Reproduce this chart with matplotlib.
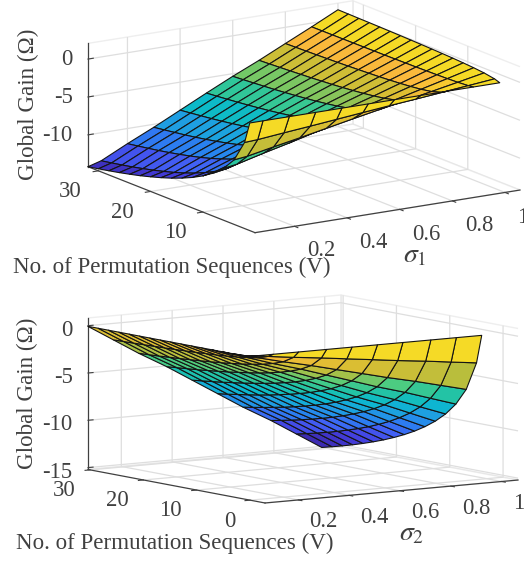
import numpy as np
import matplotlib
matplotlib.use('Agg')
import matplotlib.pyplot as plt
from matplotlib.colors import LinearSegmentedColormap, Normalize

plt.rcParams.update({
    'font.family': ['Liberation Serif', 'DejaVu Serif'],
    'mathtext.fontset': 'stix',
    'grid.color': '#dedede',
    'grid.linewidth': 0.9,
    'axes.edgecolor': '#404040',
    'axes.linewidth': 0.9,
    'xtick.color': '#404040',
    'ytick.color': '#404040',
    'text.color': '#404040',
    'axes.labelcolor': '#404040',
})

W, H = 524, 561

# ---- data: panel 1 -------------------------------------------------------
sigma1 = [0.05, 0.1, 0.2, 0.3, 0.4, 0.5, 0.6, 0.7, 0.8, 0.9, 1.0]
v1 = [1, 2, 4, 6, 8, 10, 12, 14, 16, 18, 20, 22, 24, 26, 28, 30, 32]
gain1 = [
    [0, 0, 0, 0, 0, 0, 0, 0, 0, 0, 0],
    [-2.84, -2.74, -2.40, -2.08, -1.74, -1.40, -1.07, -0.76, -0.43, -0.10, 0.24],
    [-5.68, -5.48, -4.80, -4.16, -3.48, -2.80, -2.14, -1.52, -0.86, -0.20, 0.48],
    [-7.34, -7.08, -6.20, -5.38, -4.50, -3.62, -2.77, -1.96, -1.11, -0.26, 0.62],
    [-8.52, -8.22, -7.20, -6.24, -5.22, -4.20, -3.21, -2.28, -1.28, -0.30, 0.72],
    [-9.43, -9.10, -7.97, -6.91, -5.78, -4.65, -3.55, -2.52, -1.42, -0.33, 0.80],
    [-10.18, -9.82, -8.60, -7.46, -6.24, -5.02, -3.84, -2.72, -1.53, -0.36, 0.86],
    [-10.81, -10.43, -9.13, -7.91, -6.62, -5.33, -4.07, -2.89, -1.63, -0.38, 0.91],
    [-11.36, -10.96, -9.60, -8.32, -6.96, -5.60, -4.28, -3.04, -1.71, -0.40, 0.96],
    [-11.84, -11.43, -10.01, -8.67, -7.26, -5.84, -4.46, -3.17, -1.78, -0.42, 1.00],
    [-12.27, -11.84, -10.37, -8.99, -7.52, -6.05, -4.62, -3.28, -1.85, -0.43, 1.04],
    [-12.67, -12.22, -10.70, -9.28, -7.76, -6.24, -4.77, -3.39, -1.91, -0.45, 1.07],
    [-13.02, -12.56, -11.00, -9.54, -7.98, -6.42, -4.91, -3.48, -1.96, -0.46, 1.10],
    [-13.35, -12.88, -11.28, -9.78, -8.18, -6.58, -5.03, -3.57, -2.01, -0.47, 1.13],
    [-13.65, -13.17, -11.53, -9.99, -8.36, -6.73, -5.14, -3.65, -2.06, -0.48, 1.15],
    [-13.93, -13.44, -11.77, -10.20, -8.53, -6.87, -5.25, -3.73, -2.10, -0.49, 1.18],
    [-14.20, -13.70, -12.00, -10.40, -8.70, -7.00, -5.35, -3.80, -2.14, -0.50, 1.20],
]
# how much each V row of panel 1 follows its own gain in colour (rest: the V=32 row)
colour_follow1 = [1, 1, 1, 0.7, 0.5, 0.35, 0.3, 0.3, 0.3, 0.3, 0.3, 0.3, 0.3, 0.3, 0.3, 0.3, 0.3]

# ---- data: panel 2 -------------------------------------------------------
sigma2 = [0.06, 0.16, 0.26, 0.37, 0.47, 0.57, 0.67, 0.78, 0.88, 0.98]
v2 = [0, 0.97, 2.9, 4.84, 6.77, 8.71, 10.65, 12.58, 14.52, 16.45, 18.39,
      20.32, 22.26, 24.19, 26.13, 28.06, 30]
gain2 = [
    [0, 0, 0, 0, 0, 0, 0, 0, 0, 0],
    [0, -0.33, -0.67, -1.00, -1.34, -1.67, -2.01, -2.34, -2.68, -3.01],
    [0, -0.67, -1.34, -2.01, -2.68, -3.34, -4.01, -4.68, -5.35, -6.02],
    [0, -0.86, -1.73, -2.59, -3.46, -4.32, -5.19, -6.05, -6.92, -7.78],
    [0, -1.00, -2.01, -3.01, -4.01, -5.02, -6.02, -7.02, -8.03, -9.03],
    [0, -1.11, -2.22, -3.33, -4.44, -5.56, -6.67, -7.78, -8.89, -10.00],
    [0, -1.20, -2.40, -3.60, -4.80, -5.99, -7.19, -8.39, -9.59, -10.79],
    [0, -1.27, -2.55, -3.82, -5.09, -6.37, -7.64, -8.91, -10.19, -11.46],
    [0, -1.34, -2.68, -4.01, -5.35, -6.69, -8.03, -9.36, -10.70, -12.04],
    [0, -1.39, -2.79, -4.18, -5.58, -6.97, -8.37, -9.76, -11.16, -12.55],
    [0, -1.45, -2.89, -4.34, -5.78, -7.23, -8.67, -10.12, -11.56, -13.01],
    [0, -1.49, -2.98, -4.47, -5.96, -7.46, -8.95, -10.44, -11.93, -13.42],
    [0, -1.53, -3.07, -4.60, -6.13, -7.67, -9.20, -10.73, -12.27, -13.80],
    [0, -1.57, -3.14, -4.72, -6.29, -7.86, -9.43, -11.01, -12.58, -14.15],
    [0, -1.61, -3.22, -4.82, -6.43, -8.04, -9.65, -11.25, -12.86, -14.47],
    [0, -1.64, -3.28, -4.92, -6.56, -8.21, -9.85, -11.49, -13.13, -14.77],
    [0, -1.67, -3.34, -5.02, -6.69, -8.36, -10.03, -11.71, -13.38, -15.05],
]
colour_follow2 = [1] * 17

sigma_ticks = [0.2, 0.4, 0.6, 0.8, 1.0]
sigma_ticklabels = ['0.2', '0.4', '0.6', '0.8', '1']
v1_ticks = [10, 20, 30]
v2_ticks = [0, 10, 20, 30]
z1_ticks = [-10, -5, 0]
z2_ticks = [-15, -10, -5, 0]

cmap_anchors = [
    (0.00, (58, 40, 170)), (0.10, (68, 62, 222)), (0.20, (66, 96, 245)),
    (0.30, (40, 130, 240)), (0.40, (30, 160, 225)), (0.50, (10, 185, 205)),
    (0.60, (35, 195, 165)), (0.70, (80, 205, 125)), (0.80, (185, 190, 60)),
    (0.90, (222, 190, 50)), (0.975, (252, 185, 60)), (1.00, (245, 218, 38)),
]
parula = LinearSegmentedColormap.from_list(
    'parula_like', [(p, tuple(c / 255 for c in rgb)) for p, rgb in cmap_anchors])

fig = plt.figure(figsize=(W / 100, H / 100), dpi=100)
fig.patch.set_facecolor('white')


def project(ax, pts):
    M = ax.get_proj()
    out = []
    for x, y, z in pts:
        v = M @ np.array([x, y, z, 1.0])
        out.append((v[0] / v[3], v[1] / v[3]))
    return ax.transData.transform(np.array(out))


def panel(sig, v, gain, follow, xlim, ylim, zlim, elev, azim, aspect, clim, corners,
          yt, zt, pads, xlabel, labels_px, z_label_drop):
    ax = fig.add_axes([0.2, 0.2, 0.5, 0.5 * W / H], projection='3d', proj_type='ortho')
    ax.patch.set_alpha(0)
    ax.set_box_aspect(aspect)
    ax.view_init(elev=elev, azim=azim)
    ax.set_xlim(*xlim)
    ax.set_ylim(*ylim)
    ax.set_zlim(*zlim)

    Z = np.array(gain, dtype=float)
    X, Y = np.meshgrid(sig, v)
    norm = Normalize(*clim)
    w = np.array(follow, dtype=float)[:, None]
    B = w * Z + (1 - w) * Z[-1:, :]
    C = B.copy()
    C[:, :-1] = B[:, 1:]
    ax.plot_surface(X, Y, Z, facecolors=parula(norm(C)), rstride=1, cstride=1,
                    shade=False, edgecolor='#141414', linewidth=0.8)

    ax.set_xticks(sigma_ticks, sigma_ticklabels)
    ax.set_yticks(yt, [str(t) for t in yt])
    ax.set_zticks(zt, [str(t) for t in zt])
    ax.tick_params(axis='x', labelsize=16.3, pad=pads[0])
    ax.tick_params(axis='y', labelsize=16.3, pad=pads[1])
    ax.tick_params(axis='z', labelsize=16.3, pad=pads[2])
    plt.setp(ax.get_zticklabels(), ha='right', va='center')
    plt.setp(ax.get_xticklabels(), ha='left')
    plt.setp(ax.get_yticklabels(), ha='right')
    for axis in (ax.xaxis, ax.yaxis, ax.zaxis):
        axis.pane.set_facecolor((1, 1, 1, 0))
        axis.pane.set_edgecolor('#dedede')
        axis.line.set_linewidth(0.9)
        axis._axinfo['tick']['inward_factor'] = 0.25
        axis._axinfo['tick']['outward_factor'] = 0.0
    ax.zaxis._axinfo['tick']['inward_factor'] = 0.0
    ax.zaxis._axinfo['tick']['outward_factor'] = 0.25

    # fit the box onto the wanted position in the figure
    ax.apply_aspect()
    box0 = ax.get_position()
    s0 = box0.width * W
    c0 = np.array([(box0.x0 + box0.x1) / 2 * W, (box0.y0 + box0.y1) / 2 * H])
    pts = [(xlim[0], ylim[1], zlim[0]), (xlim[0], ylim[0], zlim[0]), (xlim[1], ylim[0], zlim[0])]
    u = (project(ax, pts) - c0) / s0
    tgt = np.array([(px, H - py) for px, py in corners], dtype=float)
    s = (tgt[2, 0] - tgt[0, 0]) / (u[2, 0] - u[0, 0])
    c = tgt.mean(axis=0) - s * u.mean(axis=0)
    ax.set_position([(c[0] - s / 2) / W, (c[1] - s / 2) / H, s / W, s / H])
    ax.apply_aspect()

    inv = ax.transData.inverted()
    texts = [xlabel, 'No. of Permutation Sequences (V)', 'Global Gain (\u03a9)']
    sizes = [20, 16.6, 16.6]
    for axis, txt, sz, (px, py), rot in zip((ax.xaxis, ax.yaxis, ax.zaxis), texts, sizes,
                                            labels_px, (0, 0, 90)):
        axis.set_label_text(txt, fontsize=sz, rotation=rot)
        axis.set_rotate_label(False)
        lab = axis.label
        dx, dy = inv.transform((px, H - py))
        lab.set_x(dx)
        lab.set_y(dy)
        lab.set_position = lambda xy: None

    # nudge the z tick labels down on the page
    drop = inv.transform((0, z_label_drop))[1] - inv.transform((0, 0))[1]
    for tick in ax.zaxis.get_major_ticks():
        orig = tick.label1.set_position
        tick.label1.set_position = (lambda f: (lambda xy: f((xy[0], xy[1] - drop))))(orig)
    return ax


panel(sigma1, v1, gain1, colour_follow1, (0.05, 1.057), (0, 32), (-14.2, 2.07), 14.6, -122.55,
      (314.5, 310.6, 127.5), (-14.2, 0.0),
      [(88, 166.7), (255, 232.7), (520, 190)],
      v1_ticks, z1_ticks, (4.5, 2.5, -2), r'$\sigma_1$',
      [(415, 256), (172, 267), (28, 104)], 1)

panel(sigma2, v2, gain2, colour_follow2, (0.069, 1.064), (-2.8, 30.4), (-15.2, 0.82), 7.53, -124.7,
      (307.6, 310.8, 152.8), (-15.05, 0.0),
      [(88, 469.5), (265, 503), (518, 480)],
      v2_ticks, z2_ticks, (2.5, 2, -2), r'$\sigma_2$',
      [(412, 534), (175, 543), (27, 393)], 5)

fig.savefig('out.png', dpi=100, facecolor='white')
